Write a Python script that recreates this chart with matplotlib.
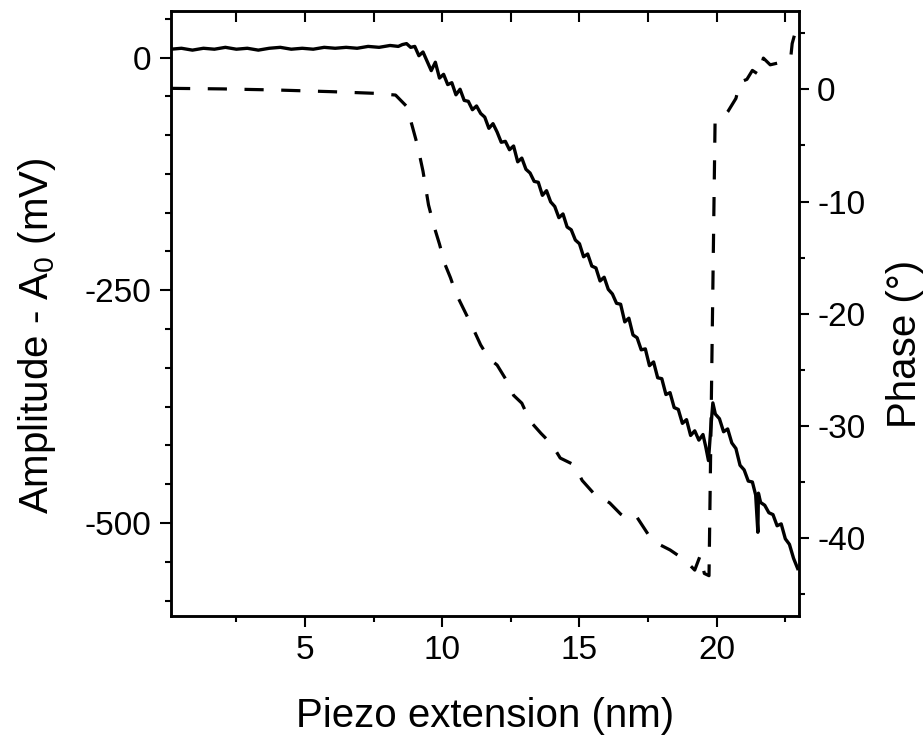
import numpy as np
import matplotlib
matplotlib.use("Agg")
import matplotlib.pyplot as plt
from matplotlib.ticker import MultipleLocator

plt.rcParams['font.family'] = ['Liberation Sans', 'DejaVu Sans']
plt.rcParams['mathtext.default'] = 'regular'
plt.rcParams['axes.unicode_minus'] = False

# amplitude trace (left axis, mV)
amp_x = [0.12, 0.5, 0.9, 1.3, 1.7, 2.1, 2.5, 2.9, 3.3, 3.7, 4.1, 4.5, 4.9, 5.3,
         5.7, 6.1, 6.5, 6.9, 7.3, 7.7, 8.1, 8.4,
         8.55, 8.70, 8.85, 9.00, 9.15, 9.30, 9.45, 9.60, 9.75, 9.90, 10.05,
         10.20, 10.35, 10.50, 10.65, 10.80, 10.95, 11.10, 11.25, 11.40, 11.55,
         11.70, 11.85, 12.00, 12.15, 12.30, 12.45, 12.60, 12.75, 12.90, 13.05,
         13.20, 13.35, 13.50, 13.65, 13.80, 13.95, 14.10, 14.25, 14.40, 14.55,
         14.70, 14.85, 15.00, 15.15, 15.30, 15.45, 15.60, 15.75, 15.90, 16.05,
         16.20, 16.35, 16.50, 16.65, 16.80, 16.95, 17.10, 17.25, 17.40, 17.55,
         17.70, 17.85, 18.00, 18.15, 18.30, 18.45, 18.60, 18.75, 18.90, 19.05,
         19.20, 19.35, 19.50, 19.60, 19.70, 19.78, 19.86, 19.95, 20.10, 20.25,
         20.40, 20.55, 20.70, 20.85, 21.00, 21.15, 21.30, 21.42, 21.50, 21.52,
         21.60, 21.75, 21.90, 22.05, 22.20, 22.35, 22.50, 22.65, 22.80, 22.95]
amp_y = [9, 10, 8, 10, 9, 11, 9, 10, 8, 10, 11, 9, 10, 9,
         11, 10, 11, 10, 12, 11, 13, 12,
         14, 15, 11, 12, 2, 6, -4, -14, -5, -22, -18,
         -29, -27, -40, -34, -46, -47, -56, -52, -60, -64,
         -76, -71, -80, -91, -90, -99, -95, -112, -108, -120,
         -124, -133, -134, -148, -143, -155, -160, -172, -168, -182,
         -185, -196, -200, -214, -211, -224, -226, -240, -236, -249,
         -254, -264, -265, -284, -280, -298, -301, -314, -313, -331,
         -327, -344, -345, -362, -360, -376, -378, -393, -389, -406,
         -401, -411, -405, -418, -433, -400, -371, -383, -388, -402,
         -399, -414, -420, -438, -443, -455, -456, -470, -510, -468,
         -478, -481, -489, -491, -503, -501, -517, -523, -538, -549]

# phase trace (right axis, degrees)
ph_x = [0.12, 2.0, 4.0, 6.0, 7.6, 8.3, 8.7, 8.9, 9.1, 9.3, 9.5, 9.7, 9.9,
        10.1, 10.3, 10.5, 10.8, 11.1, 11.4, 11.7, 12.0, 12.3, 12.6, 12.9,
        13.2, 13.6, 14.0, 14.3, 14.8, 15.1, 15.5, 16.1, 16.5, 16.8, 17.1,
        17.5, 17.9, 18.3, 18.6, 19.0, 19.2, 19.4, 19.55, 19.72, 19.94,
        20.2, 20.4, 20.7, 20.85, 21.1, 21.3, 21.55, 21.7, 21.95, 22.3,
        22.7, 22.75, 22.85]
ph_y = [0.1, 0.05, -0.05, -0.2, -0.35, -0.5, -1.5, -3.2, -5.0, -7.3, -10.3,
        -12.2, -13.8, -15.6, -16.8, -18.2, -19.7, -21.2, -22.8, -24.0, -24.6,
        -25.8, -27.3, -28.0, -29.6, -30.7, -31.7, -32.9, -33.5, -34.9, -36.0,
        -36.9, -37.9, -38.4, -38.2, -39.7, -40.6, -41.1, -41.6, -42.4, -42.9,
        -41.6, -43.2, -43.4, -3.0, -2.6, -2.0, -0.8, 0.65, 0.9, 1.7, 1.3,
        2.8, 2.2, 2.4, 2.9, 4.1, 5.0]

fig = plt.figure(figsize=(9.23, 7.36), dpi=100)
ax = fig.add_axes([0.1853, 0.163, 0.6804, 0.822])
ax2 = ax.twinx()

ax.plot(amp_x, amp_y, color='black', linewidth=2.4)
ax2.plot(ph_x, ph_y, color='black', linewidth=2.3, linestyle=(0, (6, 5.5)))

ax.set_xlim(0.12, 23.0)
ax.set_ylim(-600, 50)
ax2.set_ylim(-47, 7)

ax.xaxis.set_major_locator(MultipleLocator(5))
ax.xaxis.set_minor_locator(MultipleLocator(2.5))
ax.yaxis.set_major_locator(MultipleLocator(250))
ax.yaxis.set_minor_locator(MultipleLocator(250 / 6))
ax2.yaxis.set_major_locator(MultipleLocator(10))
ax2.yaxis.set_minor_locator(MultipleLocator(5))

for a in (ax, ax2):
    for s in a.spines.values():
        s.set_linewidth(1.8)
ax.tick_params(axis='both', which='major', direction='out', length=8,
               width=1.5, labelsize=24, pad=6)
ax.tick_params(axis='both', which='minor', direction='out', length=4, width=1.5)
ax2.tick_params(axis='y', which='major', direction='out', length=7,
                width=1.5, labelsize=24, pad=6)
ax2.tick_params(axis='y', which='minor', direction='out', length=4, width=1.5)

# top axis: inward ticks every 2.5, no labels
top = ax.secondary_xaxis('top')
top.xaxis.set_major_locator(MultipleLocator(2.5))
top.tick_params(direction='in', length=8, width=1.5, labeltop=False)

ax.set_xlabel('Piezo extension (nm)', fontsize=29, va='center')
ax.xaxis.set_label_coords(0.5, -0.165)
ax.set_ylabel('Amplitude - A$_0$ (mV)', fontsize=29, va='center')
ax.yaxis.set_label_coords(-0.213, 0.463)
ax2.set_ylabel('Phase (°)', fontsize=29, va='center', rotation=90)
ax2.yaxis.set_label_coords(1.169, 0.45)

fig.savefig('out.png', dpi=100)
